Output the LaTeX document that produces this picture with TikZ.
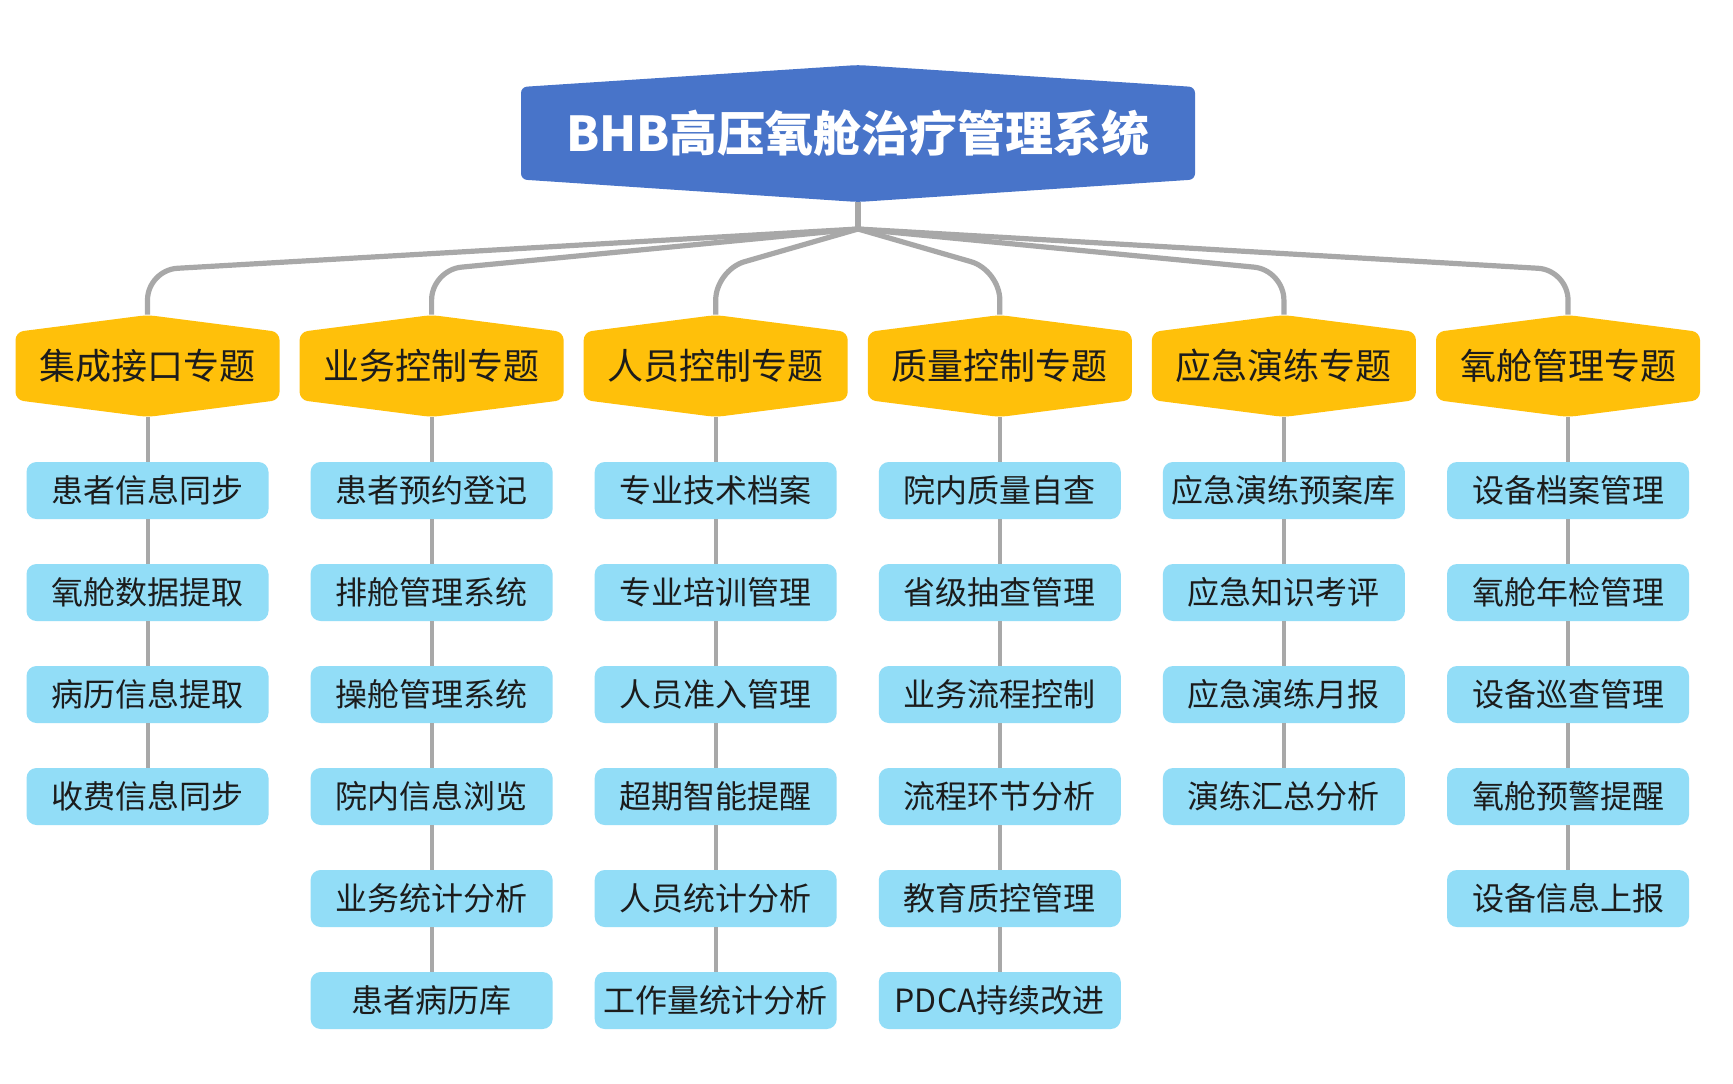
\documentclass[tikz,border=0pt]{standalone}
\usepackage{fontspec}
\setmainfont{Noto Sans CJK SC}
\usetikzlibrary{calc}
\definecolor{topblue}{HTML}{4874C9}
\definecolor{catyellow}{HTML}{FFC00A}
\definecolor{leafblue}{HTML}{92DDF7}
\definecolor{linegray}{HTML}{A8A8A8}
\definecolor{txtdark}{HTML}{1C1C1C}
\tikzset{
  topnode/.style={inner sep=0pt, minimum width=337pt, minimum height=68.5pt, text=white, font=\bfseries\fontsize{24}{28}\selectfont},
  catnode/.style={inner sep=0pt, minimum width=132pt, minimum height=51pt, text=txtdark, font=\fontsize{18}{22}\selectfont},
  leafnode/.style={fill=leafblue, rounded corners=5pt, inner sep=0pt, minimum width=121pt, minimum height=28.5pt, text=txtdark, font=\fontsize{16}{20}\selectfont},
  trunk/.style={draw=linegray, line width=3pt},
  branch/.style={draw=linegray, line width=2.6pt, rounded corners=15pt},
  leafline/.style={draw=linegray, line width=2pt},
}
\newcommand\catbox[3]{%
  \fill[catyellow, rounded corners=4pt] (#2,366) ++(0,-51) -- ++(132,17) -- ++(0,68) -- ++(-132,17) -- ++(-132,-17) -- ++(0,-68) -- cycle;
  \node[catnode] (#1) at (#2,366) {#3};
}
\begin{document}
\begin{tikzpicture}[x=0.5pt, y=-0.5pt]
\useasboundingbox[fill=white] (0,0) rectangle (1733,1083);
% top node
\fill[topblue, rounded corners=3pt] (858,133.5) ++(0,-68.5) -- ++(337,22) -- ++(0,92.5) -- ++(-337,22.5) -- ++(-337,-22.5) -- ++(0,-92.5) -- cycle;
\node[topnode] (top) at (858,133.5) {BHB高压氧舱治疗管理系统};
\coordinate (hub) at (858,229);
\coordinate (bend) at (0,270);
% categories
\catbox{c1}{147.5}{集成接口专题}
\catbox{c2}{431.6}{业务控制专题}
\catbox{c3}{715.7}{人员控制专题}
\catbox{c4}{999.8}{质量控制专题}
\catbox{c5}{1283.9}{应急演练专题}
\catbox{c6}{1568}{氧舱管理专题}
% connectors top
\draw[trunk] (top.south) -- (hub);
\foreach \c in {c1,c2,c3,c4,c5,c6}{
  \draw[branch] (hub) -- (\c.north |- bend) -- (\c.north);
}
% leaves
\foreach \col/\lst in {c1/{患者信息同步,氧舱数据提取,病历信息提取,收费信息同步},
  c2/{患者预约登记,排舱管理系统,操舱管理系统,院内信息浏览,业务统计分析,患者病历库},
  c3/{专业技术档案,专业培训管理,人员准入管理,超期智能提醒,人员统计分析,工作量统计分析},
  c4/{院内质量自查,省级抽查管理,业务流程控制,流程环节分析,教育质控管理,PDCA持续改进},
  c5/{应急演练预案库,应急知识考评,应急演练月报,演练汇总分析},
  c6/{设备档案管理,氧舱年检管理,设备巡查管理,氧舱预警提醒,设备信息上报}}{
  \foreach \t [count=\i, remember=\i as \prev (initially 0)] in \lst {
    \node[leafnode] (\col-\i) at ($(\col.center |- 0,490.5) + (0,{(\i-1)*102})$) {\t};
    \ifnum\i=1
      \draw[leafline] (\col.south) -- (\col-\i.north);
    \else
      \draw[leafline] (\col-\prev.south) -- (\col-\i.north);
    \fi
  }
}
\end{tikzpicture}
\end{document}
